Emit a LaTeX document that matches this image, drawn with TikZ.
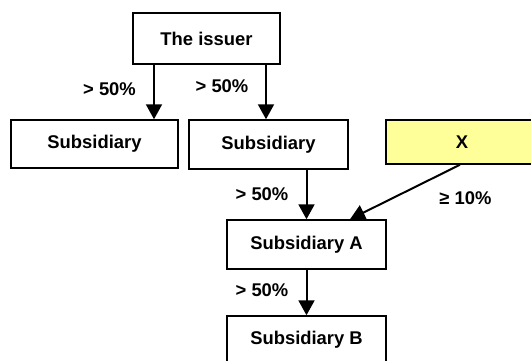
\documentclass[tikz,border=0pt]{standalone}
\usepackage{fontspec}
\setmainfont{Liberation Sans}
\usetikzlibrary{arrows.meta}
\definecolor{xyellow}{HTML}{FFFF99}
\tikzset{
  box/.style={draw=black, line width=1.5pt, fill=white, inner sep=0pt, font=\fontsize{18.4}{22}\selectfont\bfseries},
  arr/.style={line width=2pt, -{Triangle[width=16pt,length=15pt]}},
  lbl/.style={inner sep=0pt, font=\fontsize{18.4}{22}\selectfont\bfseries}
}
\begin{document}
\begin{tikzpicture}[x=1pt,y=-1pt]
\useasboundingbox (0,0) rectangle (531,360);
\clip (0,0) rectangle (531,360);
\node[box, minimum width=147pt, minimum height=51pt] (issuer) at (206.5,38.5) {The issuer};
\node[box, minimum width=167pt, minimum height=48pt] (sub1) at (94.5,144) {Subsidiary};
\node[box, minimum width=159pt, minimum height=49pt] (sub2) at (268.5,144.5) {Subsidiary};
\node[box, fill=xyellow, minimum width=152pt, minimum height=44pt] (X) at (462,142) {X};
\node[box, minimum width=159pt, minimum height=49pt] (A) at (306.5,244.5) {Subsidiary A};
\node[box, minimum width=159pt, minimum height=47pt] (B) at (306.5,339.5) {Subsidiary B};
\draw[arr] (issuer.south -| 154,0) -- (sub1.north -| 154,0);
\draw[arr] (issuer.south -| 266,0) -- (sub2.north -| 266,0);
\draw[arr] (sub2.south -| A.north) -- (A.north);
\draw[arr] (X.south -| 460,0) -- (A.north -| 350,0);
\draw[arr] (A.south) -- (B.north);
\node[lbl] (l1) at (109.5,89) {> 50\%};
\node[lbl] (l2) at (222,86) {> 50\%};
\node[lbl] (l3) at (262,194) {> 50\%};
\node[lbl] (l4) at (465.5,198) {≥ 10\%};
\node[lbl] (l5) at (262,290) {> 50\%};
\end{tikzpicture}
\end{document}
